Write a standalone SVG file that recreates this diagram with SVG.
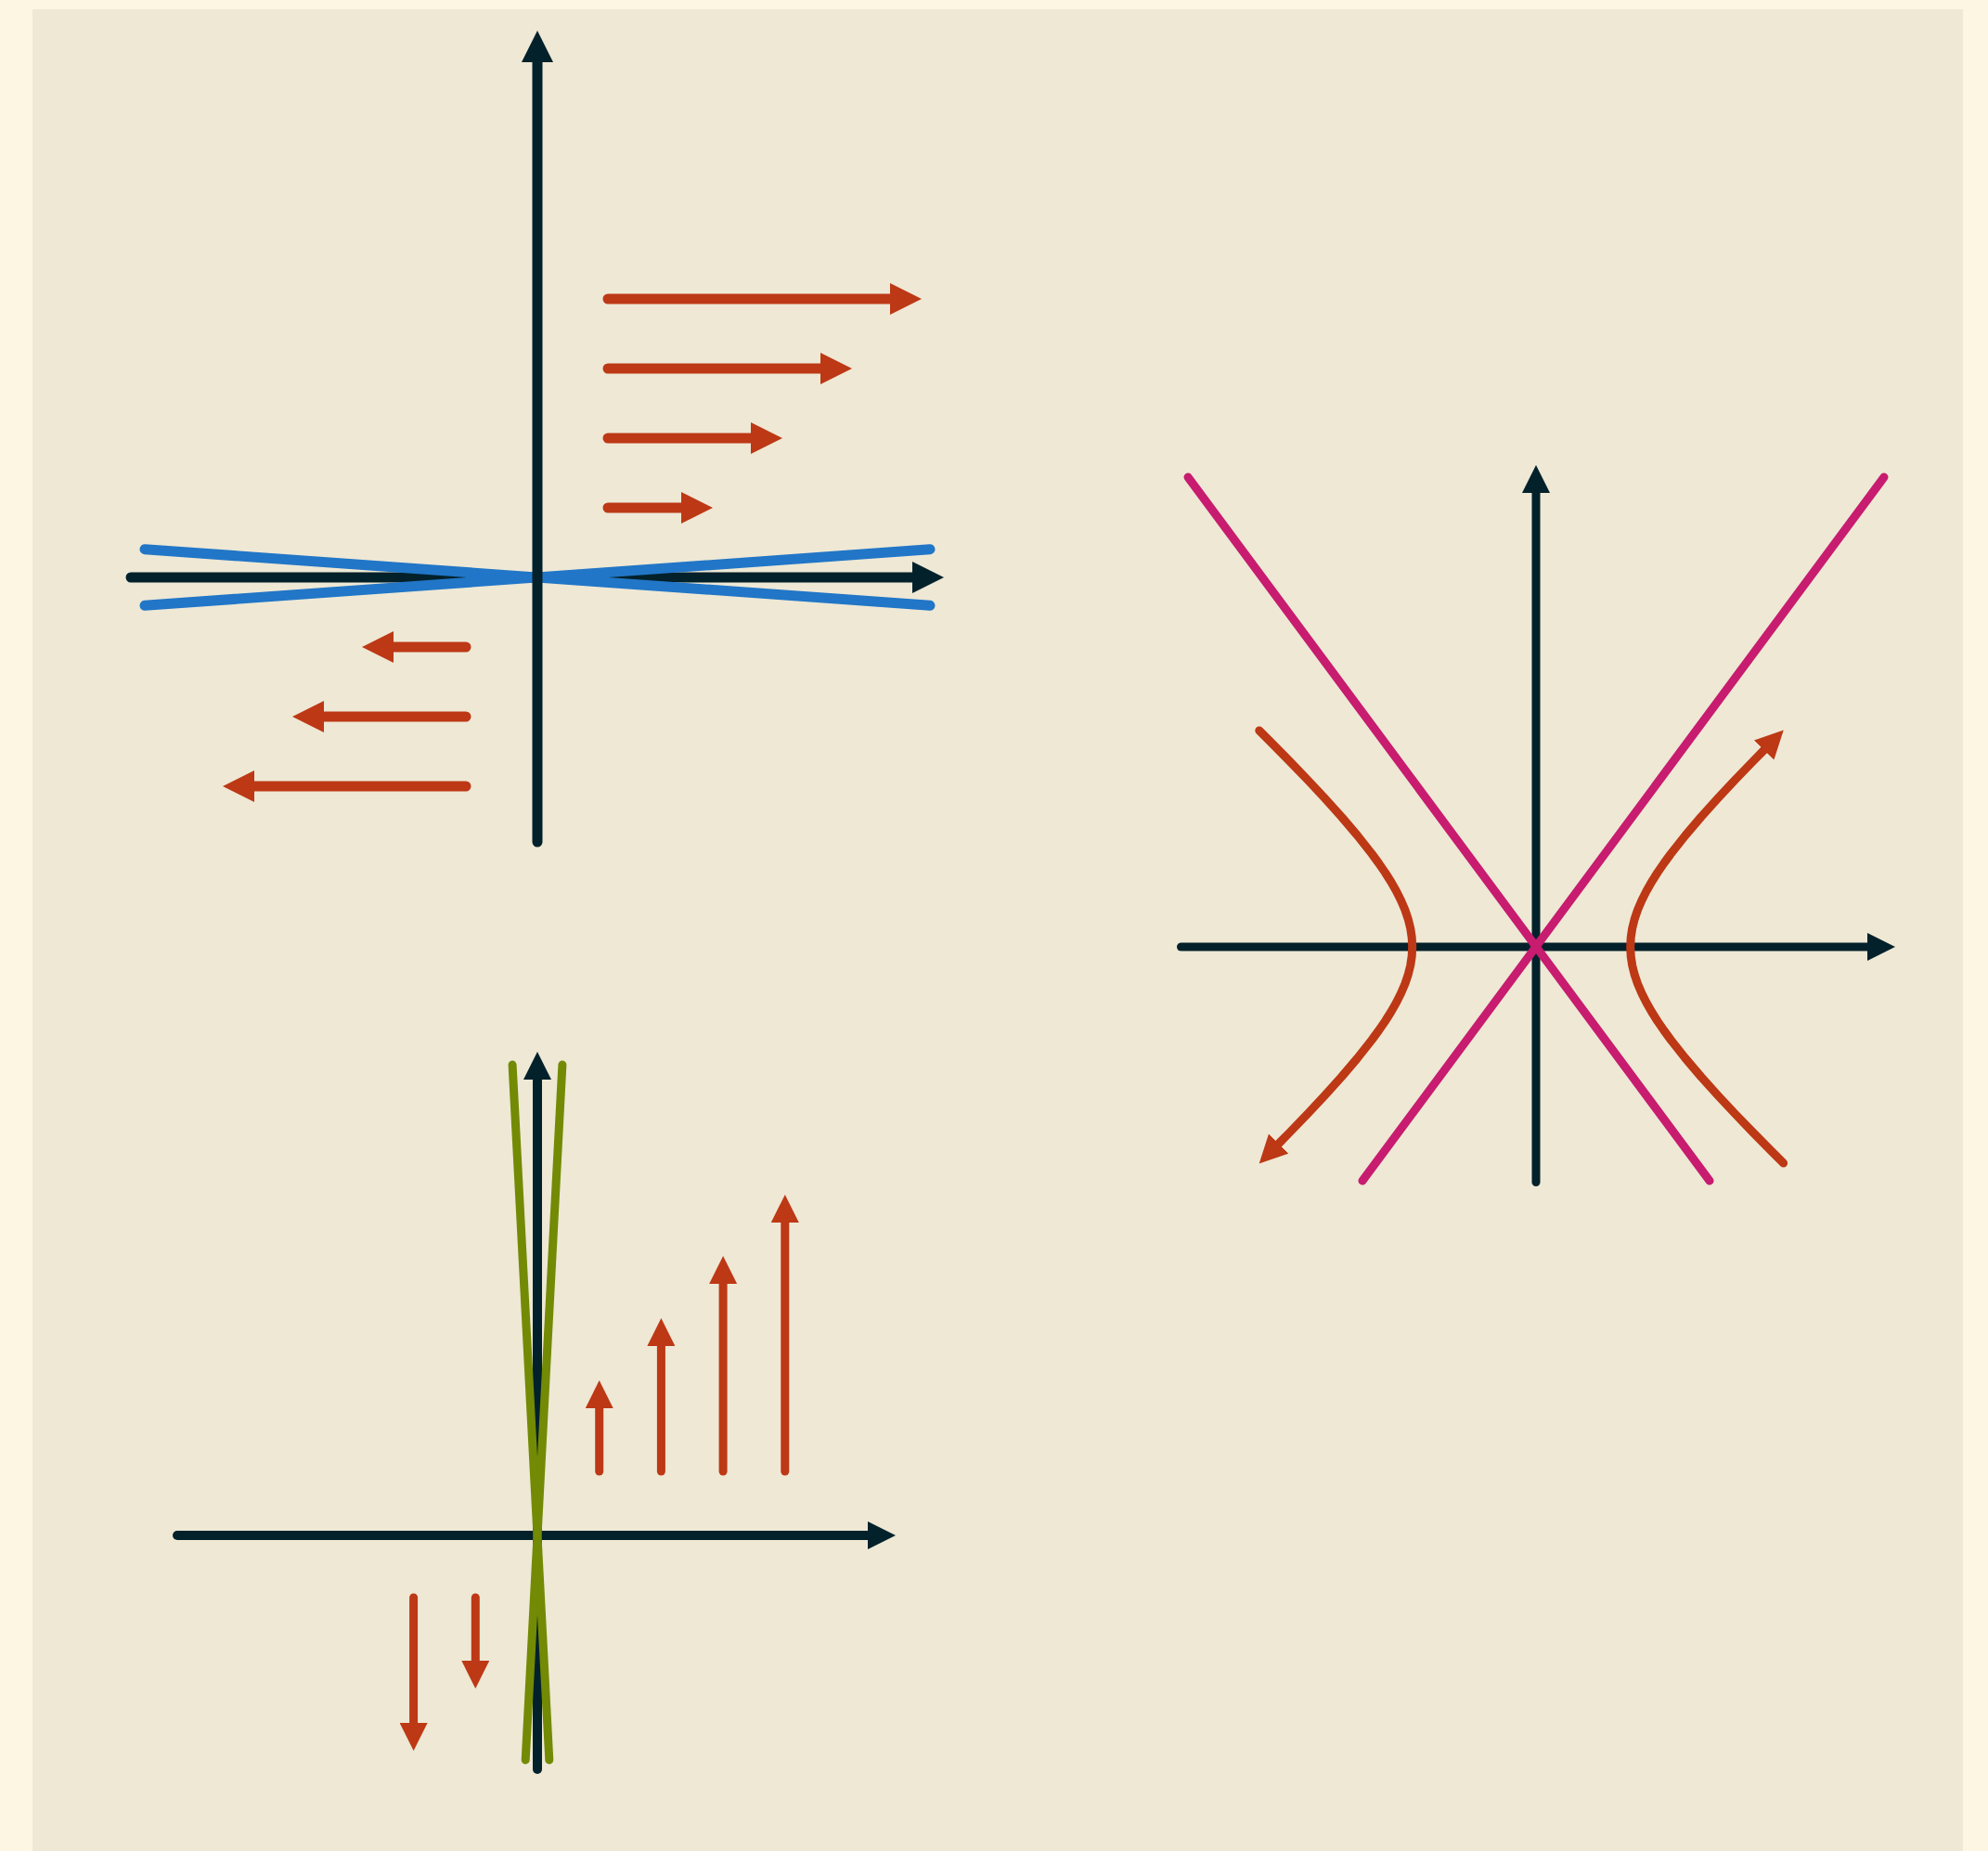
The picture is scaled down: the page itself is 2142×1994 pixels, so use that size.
<svg xmlns="http://www.w3.org/2000/svg" width="2142" height="1994" viewBox="0 0 2142 1994">
  <style>
    .ln { fill: none; stroke-linecap: round; stroke-linejoin: round; }
    .ax1 { stroke: #03212b; stroke-width: 11; }
    .ax2 { stroke: #03212b; stroke-width: 10; }
    .ax3 { stroke: #03212b; stroke-width: 9; }
    .red1 { stroke: #bd3815; stroke-width: 11; }
    .red2 { stroke: #bd3815; stroke-width: 9; }
    .red3 { stroke: #bd3815; stroke-width: 9; }
    .blue { stroke: #2176c7; stroke-width: 11; }
    .green { stroke: #738a05; stroke-width: 9; }
    .mag { stroke: #c71c6f; stroke-width: 9; }
  </style>
  <defs>
    <marker id="dk34" markerUnits="userSpaceOnUse" viewBox="0 0 34 34" markerWidth="34" markerHeight="34" refX="0" refY="17" orient="auto">
      <path d="M0,0 L34,17 L0,34 Z" fill="#03212b"/>
    </marker>
    <marker id="dk30" markerUnits="userSpaceOnUse" viewBox="0 0 30 30" markerWidth="30" markerHeight="30" refX="0" refY="15" orient="auto">
      <path d="M0,0 L30,15 L0,30 Z" fill="#03212b"/>
    </marker>
    <marker id="rd34" markerUnits="userSpaceOnUse" viewBox="0 0 34 34" markerWidth="34" markerHeight="34" refX="0" refY="17" orient="auto">
      <path d="M0,0 L34,17 L0,34 Z" fill="#bd3815"/>
    </marker>
    <marker id="rd30" markerUnits="userSpaceOnUse" viewBox="0 0 30 30" markerWidth="30" markerHeight="30" refX="0" refY="15" orient="auto">
      <path d="M0,0 L30,15 L0,30 Z" fill="#bd3815"/>
    </marker>
  </defs>

  <rect x="0" y="0" width="2142" height="1994" fill="#fdf6e3"/>
  <rect x="35" y="10" width="2080" height="1990" fill="#eee8d5"/>

  <!-- Top-left plot -->
  <g id="plot-horizontal-shear">
    <line class="ln ax1" x1="141" y1="622" x2="983" y2="622" marker-end="url(#dk34)"/>
    <line class="ln blue" x1="156" y1="591.7" x2="1002" y2="652.3"/>
    <line class="ln blue" x1="156" y1="652.3" x2="1002" y2="591.7"/>
    <line class="ln ax1" x1="579" y1="907" x2="579" y2="67" marker-end="url(#dk34)"/>
    <g id="tl-field">
      <line class="ln red1" x1="655" y1="547" x2="734" y2="547" marker-end="url(#rd34)"/>
      <line class="ln red1" x1="655" y1="472" x2="809" y2="472" marker-end="url(#rd34)"/>
      <line class="ln red1" x1="655" y1="397" x2="884" y2="397" marker-end="url(#rd34)"/>
      <line class="ln red1" x1="655" y1="322" x2="959" y2="322" marker-end="url(#rd34)"/>
      <line class="ln red1" x1="502" y1="697" x2="424" y2="697" marker-end="url(#rd34)"/>
      <line class="ln red1" x1="502" y1="772" x2="349" y2="772" marker-end="url(#rd34)"/>
      <line class="ln red1" x1="502" y1="847" x2="274" y2="847" marker-end="url(#rd34)"/>
    </g>
  </g>

  <!-- Bottom-left plot -->
  <g id="plot-vertical-shear">
    <line class="ln ax2" x1="191" y1="1654" x2="935" y2="1654" marker-end="url(#dk30)"/>
    <line class="ln ax2" x1="579" y1="1906" x2="579" y2="1163" marker-end="url(#dk30)"/>
    <line class="ln green" x1="552.1" y1="1147" x2="591.8" y2="1896"/>
    <line class="ln green" x1="605.9" y1="1147" x2="566.2" y2="1896"/>
    <g id="bl-field">
      <line class="ln red2" x1="645.7" y1="1585" x2="645.7" y2="1517" marker-end="url(#rd30)"/>
      <line class="ln red2" x1="712.4" y1="1585" x2="712.4" y2="1450" marker-end="url(#rd30)"/>
      <line class="ln red2" x1="779.1" y1="1585" x2="779.1" y2="1383" marker-end="url(#rd30)"/>
      <line class="ln red2" x1="845.8" y1="1585" x2="845.8" y2="1317" marker-end="url(#rd30)"/>
      <line class="ln red2" x1="512.3" y1="1721" x2="512.3" y2="1789" marker-end="url(#rd30)"/>
      <line class="ln red2" x1="445.6" y1="1721" x2="445.6" y2="1856" marker-end="url(#rd30)"/>
    </g>
  </g>

  <!-- Right plot (hyperbolic) -->
  <g id="plot-hyperbolic">
    <line class="ln ax3" x1="1272.5" y1="1020" x2="2012" y2="1020" marker-end="url(#dk30)"/>
    <line class="ln ax3" x1="1655" y1="1273.5" x2="1655" y2="531" marker-end="url(#dk30)"/>
    <g id="hyp-branches">
      <path class="ln red3" marker-end="url(#rd30)" d="M1921.6,1253 L1908.6,1240 L1888.9,1220 L1869.6,1200 L1850.9,1180 L1832.9,1160 L1815.9,1140 L1800.1,1120 L1792.8,1110 L1785.9,1100 L1779.6,1090 L1773.9,1080 L1768.9,1070 L1764.6,1060 L1761.2,1050 L1758.7,1040 L1757.2,1030 L1756.7,1020 L1757.2,1010 L1758.7,1000 L1761.2,990 L1764.6,980 L1768.9,970 L1773.9,960 L1779.6,950 L1785.9,940 L1792.8,930 L1800.1,920 L1815.9,900 L1832.9,880 L1850.9,860 L1869.6,840 L1888.9,820 L1900.7,808"/>
      <path class="ln red3" marker-end="url(#rd30)" d="M1356.8,787 L1369.8,800 L1389.5,820 L1408.8,840 L1427.5,860 L1445.5,880 L1462.5,900 L1478.3,920 L1485.6,930 L1492.5,940 L1498.8,950 L1504.5,960 L1509.5,970 L1513.8,980 L1517.2,990 L1519.7,1000 L1521.2,1010 L1521.7,1020 L1521.2,1030 L1519.7,1040 L1517.2,1050 L1513.8,1060 L1509.5,1070 L1504.5,1080 L1498.8,1090 L1492.5,1100 L1485.6,1110 L1478.3,1120 L1462.5,1140 L1445.5,1160 L1427.5,1180 L1408.8,1200 L1389.5,1220 L1377.7,1232"/>
    </g>
    <line class="ln mag" x1="1280" y1="514" x2="1842" y2="1272"/>
    <line class="ln mag" x1="2030" y1="514" x2="1468" y2="1272"/>
  </g>
</svg>
